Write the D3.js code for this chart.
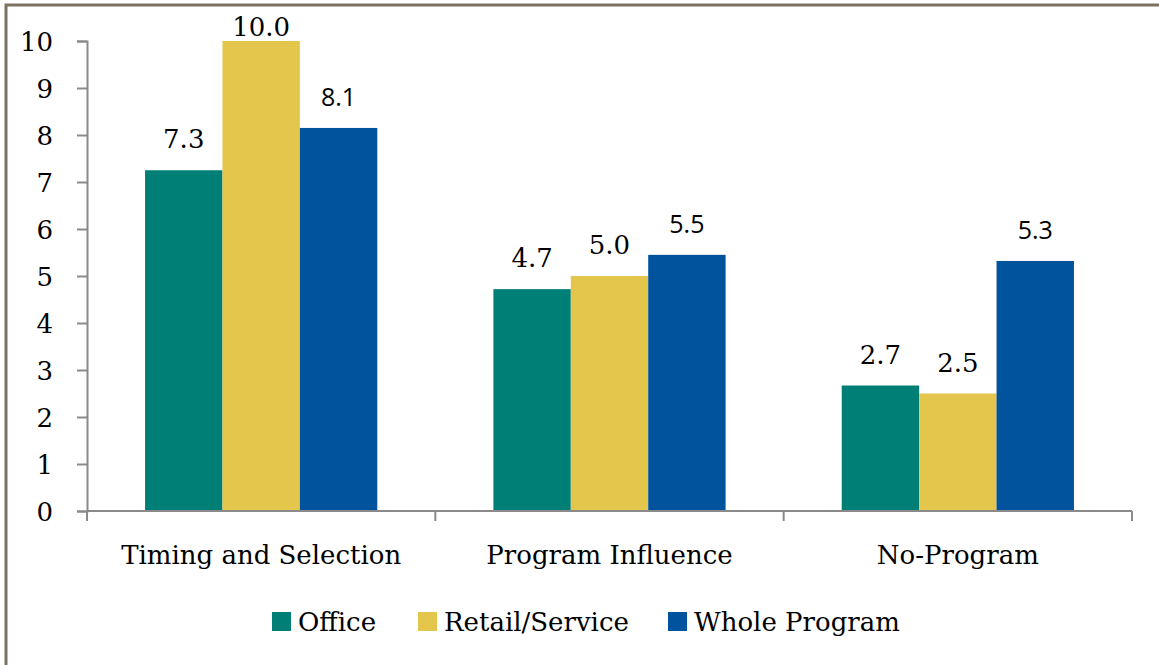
<!DOCTYPE html>
<html>
<head>
<meta charset="utf-8">
<script src="https://cdn.jsdelivr.net/npm/d3@7"></script>
<style>
  body { margin: 0; background: #fff; }
  svg { display: block; }
  .serif { font-family: "DejaVu Serif", serif; fill: #000; }
  .sans { font-family: "Open Sans", sans-serif; fill: #000; }
</style>
</head>
<body>
<svg width="1159" height="665"></svg>
<script>
// chart data
var categories = ["Timing and Selection", "Program Influence", "No-Program"];
var seriesNames = ["Office", "Retail/Service", "Whole Program"];
var office = [7.25, 4.72, 2.67];
var retail = [10.0, 5.0, 2.5];
var whole = [8.15, 5.45, 5.32];
var officeLabels = ["7.3", "4.7", "2.7"];
var retailLabels = ["10.0", "5.0", "2.5"];
var wholeLabels = ["8.1", "5.5", "5.3"];
var yTicks = [0, 1, 2, 3, 4, 5, 6, 7, 8, 9, 10];

var colors = ["#007f77", "#e3c64b", "#00539c"];
// the whole-program labels are set in a sans face in the original
var labelClass = ["serif", "serif", "sans"];

var svg = d3.select("svg");

// frame (only the top and left edges are visible)
svg.append("rect")
    .attr("x", 6).attr("y", 5)
    .attr("width", 1300).attr("height", 800)
    .attr("fill", "none")
    .attr("stroke", "#7b7262")
    .attr("stroke-width", 3);

var plotLeft = 87, plotRight = 1132, plotTop = 41, plotBottom = 511;

var x0 = d3.scaleBand()
    .domain(categories)
    .range([plotLeft, plotRight])
    .paddingInner(1 / 3)
    .paddingOuter(1 / 6);

var x1 = d3.scaleBand()
    .domain(seriesNames)
    .range([0, x0.bandwidth()]);

var y = d3.scaleLinear().domain([0, 10]).range([plotBottom, plotTop]);

var values = [office, retail, whole];
var labels = [officeLabels, retailLabels, wholeLabels];

var rows = [];
seriesNames.forEach(function(s, si) {
  categories.forEach(function(c, ci) {
    rows.push({series: s, si: si, cat: c, value: values[si][ci], label: labels[si][ci]});
  });
});

svg.append("g").selectAll("rect")
  .data(rows)
  .enter().append("rect")
    .attr("x", function(d) { return x0(d.cat) + x1(d.series); })
    .attr("y", function(d) { return y(d.value); })
    .attr("width", x1.bandwidth())
    .attr("height", function(d) { return y(0) - y(d.value); })
    .attr("fill", function(d) { return colors[d.si]; });

// value labels
svg.append("g").selectAll("text")
  .data(rows)
  .enter().append("text")
    .attr("class", function(d) { return labelClass[d.si]; })
    .attr("x", function(d) { return x0(d.cat) + x1(d.series) + x1.bandwidth() / 2; })
    .attr("y", function(d) { return Math.max(y(d.value) - 22, 36); })
    .attr("text-anchor", "middle")
    .style("font-size", function(d) { return d.si == 2 ? "25px" : "26px"; })
    .text(function(d) { return d.label; });

// y axis
var yAxis = svg.append("g")
    .attr("transform", "translate(" + plotLeft + ",0)")
    .call(d3.axisLeft(y).tickValues(yTicks).tickSize(10).tickPadding(24).tickFormat(d3.format("d")));
yAxis.select(".domain").attr("stroke", "#8a8a8a").attr("stroke-width", 2);
yAxis.selectAll(".tick line").attr("stroke", "#8a8a8a").attr("stroke-width", 2);
yAxis.selectAll(".tick text")
    .attr("class", "serif")
    .attr("font-family", null)
    .style("font-size", "26px")
    .attr("dy", "0.36em");

// x axis with ticks between categories
var boundaries = [plotLeft].concat(categories.map(function(c) { return x0(c) + x0.bandwidth() + x0.step() * x0.paddingInner() / 2; }));
boundaries[boundaries.length - 1] = plotRight;
var xg = svg.append("g");
xg.append("line")
    .attr("x1", plotLeft).attr("x2", plotRight)
    .attr("y1", y(0)).attr("y2", y(0))
    .attr("stroke", "#8a8a8a").attr("stroke-width", 2);
xg.selectAll(".xt")
  .data(boundaries)
  .enter().append("line")
    .attr("class", "xt")
    .attr("x1", function(d) { return d; }).attr("x2", function(d) { return d; })
    .attr("y1", y(0)).attr("y2", y(0) + 10)
    .attr("stroke", "#8a8a8a").attr("stroke-width", 2);
xg.selectAll("text")
  .data(categories)
  .enter().append("text")
    .attr("class", "serif")
    .attr("x", function(d) { return x0(d) + x0.bandwidth() / 2; })
    .attr("y", 564)
    .attr("text-anchor", "middle")
    .style("font-size", "26px")
    .text(function(d) { return d; });

// legend
var legendX = [272, 418, 668];
var legend = svg.append("g").selectAll("g")
  .data(seriesNames)
  .enter().append("g")
    .attr("transform", function(d, i) { return "translate(" + legendX[i] + ",612)"; });
legend.append("rect")
    .attr("width", 19).attr("height", 19)
    .attr("fill", function(d, i) { return colors[i]; });
legend.append("text")
    .attr("class", "serif")
    .attr("x", 26).attr("y", 19)
    .style("font-size", "26px")
    .text(function(d) { return d; });
</script>
</body>
</html>
